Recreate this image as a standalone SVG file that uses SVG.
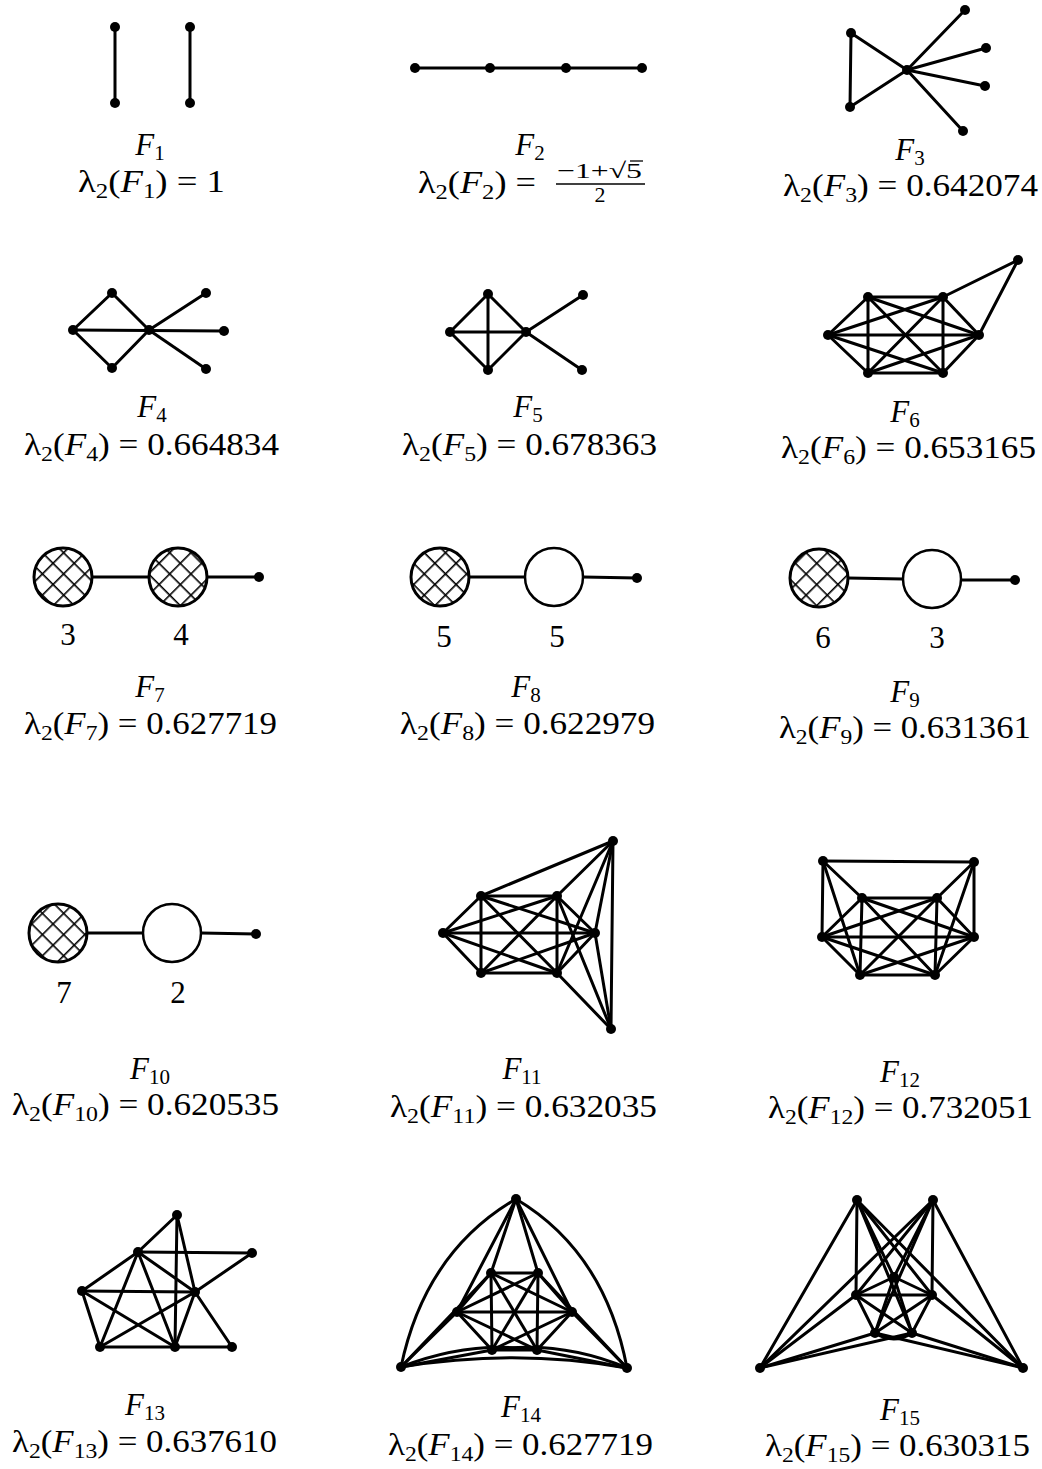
<svg xmlns="http://www.w3.org/2000/svg" width="1042" height="1469" viewBox="0 0 1042 1469">
<style>
.e{stroke:#000;stroke-width:3;fill:none;stroke-linecap:round}
.v{fill:#000}
.t{font-family:"Liberation Serif",serif;font-size:31px;fill:#000}
.i{font-style:italic}
.s{font-size:21px}
.hc{fill:url(#hatch);stroke:#000;stroke-width:3}
.oc{fill:#fff;stroke:#000;stroke-width:2.5}
</style>
<defs>
<pattern id="hatch" patternUnits="userSpaceOnUse" width="15" height="15" patternTransform="rotate(45)">
<rect width="15" height="15" fill="#fff"/>
<line x1="0" y1="0" x2="15" y2="0" stroke="#000" stroke-width="3.2"/>
<line x1="0" y1="0" x2="0" y2="15" stroke="#000" stroke-width="3.2"/>
</pattern>
</defs>
<rect width="1042" height="1469" fill="#fff"/>

<g id="connectors">
<!-- F1 -->
<line class="e" x1="115" y1="27" x2="115" y2="103"/>
<line class="e" x1="190" y1="27" x2="190" y2="103"/>
<!-- F2 -->
<line class="e" x1="415" y1="68" x2="642" y2="68"/>
<!-- F3 -->
<line class="e" x1="851" y1="33" x2="850" y2="107"/>
<line class="e" x1="851" y1="33" x2="907" y2="70"/>
<line class="e" x1="850" y1="107" x2="907" y2="70"/>
<line class="e" x1="907" y1="70" x2="965" y2="10"/>
<line class="e" x1="907" y1="70" x2="986" y2="48"/>
<line class="e" x1="907" y1="70" x2="985" y2="86"/>
<line class="e" x1="907" y1="70" x2="963" y2="131"/>
<!-- F4 -->
<line class="e" x1="73" y1="330" x2="112" y2="293"/>
<line class="e" x1="73" y1="330" x2="112" y2="368"/>
<line class="e" x1="112" y1="293" x2="149" y2="330"/>
<line class="e" x1="112" y1="368" x2="149" y2="330"/>
<line class="e" x1="73" y1="330" x2="224" y2="331"/>
<line class="e" x1="149" y1="330" x2="206" y2="293"/>
<line class="e" x1="149" y1="330" x2="206" y2="369"/>
<!-- F5 -->
<line class="e" x1="450" y1="332" x2="488" y2="294"/>
<line class="e" x1="450" y1="332" x2="488" y2="370"/>
<line class="e" x1="488" y1="294" x2="526" y2="332"/>
<line class="e" x1="488" y1="370" x2="526" y2="332"/>
<line class="e" x1="450" y1="332" x2="526" y2="332"/>
<line class="e" x1="488" y1="294" x2="488" y2="370"/>
<line class="e" x1="526" y1="332" x2="583" y2="295"/>
<line class="e" x1="526" y1="332" x2="582" y2="370"/>
<!-- F6 -->
<line class="e" x1="828" y1="335" x2="868" y2="297"/>
<line class="e" x1="828" y1="335" x2="943" y2="297"/>
<line class="e" x1="828" y1="335" x2="979" y2="335"/>
<line class="e" x1="828" y1="335" x2="943" y2="373"/>
<line class="e" x1="828" y1="335" x2="868" y2="373"/>
<line class="e" x1="868" y1="297" x2="943" y2="297"/>
<line class="e" x1="868" y1="297" x2="979" y2="335"/>
<line class="e" x1="868" y1="297" x2="943" y2="373"/>
<line class="e" x1="868" y1="297" x2="868" y2="373"/>
<line class="e" x1="943" y1="297" x2="979" y2="335"/>
<line class="e" x1="943" y1="297" x2="943" y2="373"/>
<line class="e" x1="943" y1="297" x2="868" y2="373"/>
<line class="e" x1="979" y1="335" x2="943" y2="373"/>
<line class="e" x1="979" y1="335" x2="868" y2="373"/>
<line class="e" x1="943" y1="373" x2="868" y2="373"/>
<line class="e" x1="1018" y1="260" x2="943" y2="297"/>
<line class="e" x1="1018" y1="260" x2="979" y2="335"/>
<!-- F7 -->
<line class="e" x1="92" y1="577" x2="149" y2="577"/>
<line class="e" x1="207" y1="577" x2="259" y2="577"/>
<!-- F8 -->
<line class="e" x1="469" y1="577" x2="524" y2="577"/>
<line class="e" x1="583" y1="577" x2="637" y2="578"/>
<!-- F9 -->
<line class="e" x1="848" y1="578" x2="903" y2="579"/>
<line class="e" x1="961" y1="580" x2="1015" y2="580"/>
<!-- F10 -->
<line class="e" x1="87" y1="933" x2="143" y2="933"/>
<line class="e" x1="201" y1="933" x2="256" y2="934"/>
<!-- F11 -->
<line class="e" x1="443" y1="933" x2="481" y2="896"/>
<line class="e" x1="443" y1="933" x2="557" y2="896"/>
<line class="e" x1="443" y1="933" x2="595" y2="933"/>
<line class="e" x1="443" y1="933" x2="557" y2="973"/>
<line class="e" x1="443" y1="933" x2="481" y2="973"/>
<line class="e" x1="481" y1="896" x2="557" y2="896"/>
<line class="e" x1="481" y1="896" x2="595" y2="933"/>
<line class="e" x1="481" y1="896" x2="557" y2="973"/>
<line class="e" x1="481" y1="896" x2="481" y2="973"/>
<line class="e" x1="557" y1="896" x2="595" y2="933"/>
<line class="e" x1="557" y1="896" x2="557" y2="973"/>
<line class="e" x1="557" y1="896" x2="481" y2="973"/>
<line class="e" x1="595" y1="933" x2="557" y2="973"/>
<line class="e" x1="595" y1="933" x2="481" y2="973"/>
<line class="e" x1="557" y1="973" x2="481" y2="973"/>
<line class="e" x1="613" y1="841" x2="481" y2="896"/>
<line class="e" x1="613" y1="841" x2="557" y2="896"/>
<line class="e" x1="613" y1="841" x2="595" y2="933"/>
<line class="e" x1="613" y1="841" x2="557" y2="973"/>
<line class="e" x1="613" y1="841" x2="611" y2="1029"/>
<line class="e" x1="611" y1="1029" x2="557" y2="973"/>
<line class="e" x1="611" y1="1029" x2="595" y2="933"/>
<line class="e" x1="611" y1="1029" x2="557" y2="896"/>
<!-- F12 -->
<line class="e" x1="822" y1="937" x2="862" y2="898"/>
<line class="e" x1="822" y1="937" x2="937" y2="898"/>
<line class="e" x1="822" y1="937" x2="974" y2="937"/>
<line class="e" x1="822" y1="937" x2="935" y2="975"/>
<line class="e" x1="822" y1="937" x2="860" y2="975"/>
<line class="e" x1="862" y1="898" x2="937" y2="898"/>
<line class="e" x1="862" y1="898" x2="974" y2="937"/>
<line class="e" x1="862" y1="898" x2="935" y2="975"/>
<line class="e" x1="862" y1="898" x2="860" y2="975"/>
<line class="e" x1="937" y1="898" x2="974" y2="937"/>
<line class="e" x1="937" y1="898" x2="935" y2="975"/>
<line class="e" x1="937" y1="898" x2="860" y2="975"/>
<line class="e" x1="974" y1="937" x2="935" y2="975"/>
<line class="e" x1="974" y1="937" x2="860" y2="975"/>
<line class="e" x1="935" y1="975" x2="860" y2="975"/>
<line class="e" x1="823" y1="861" x2="974" y2="862"/>
<line class="e" x1="823" y1="861" x2="822" y2="937"/>
<line class="e" x1="823" y1="861" x2="862" y2="898"/>
<line class="e" x1="823" y1="861" x2="860" y2="975"/>
<line class="e" x1="974" y1="862" x2="974" y2="937"/>
<line class="e" x1="974" y1="862" x2="937" y2="898"/>
<line class="e" x1="974" y1="862" x2="935" y2="975"/>
<!-- F13 -->
<line class="e" x1="177" y1="1215" x2="138" y2="1252"/>
<line class="e" x1="177" y1="1215" x2="175" y2="1347"/>
<line class="e" x1="177" y1="1215" x2="195" y2="1292"/>
<line class="e" x1="138" y1="1252" x2="252" y2="1253"/>
<line class="e" x1="138" y1="1252" x2="82" y2="1291"/>
<line class="e" x1="138" y1="1252" x2="100" y2="1347"/>
<line class="e" x1="138" y1="1252" x2="175" y2="1347"/>
<line class="e" x1="138" y1="1252" x2="195" y2="1292"/>
<line class="e" x1="82" y1="1291" x2="195" y2="1292"/>
<line class="e" x1="82" y1="1291" x2="100" y2="1347"/>
<line class="e" x1="82" y1="1291" x2="175" y2="1347"/>
<line class="e" x1="195" y1="1292" x2="100" y2="1347"/>
<line class="e" x1="195" y1="1292" x2="175" y2="1347"/>
<line class="e" x1="195" y1="1292" x2="232" y2="1347"/>
<line class="e" x1="252" y1="1253" x2="195" y2="1292"/>
<line class="e" x1="100" y1="1347" x2="232" y2="1347"/>
<!-- F14 -->
<line class="e" x1="491" y1="1273" x2="538" y2="1273"/>
<line class="e" x1="491" y1="1273" x2="457" y2="1312"/>
<line class="e" x1="491" y1="1273" x2="572" y2="1312"/>
<line class="e" x1="491" y1="1273" x2="492" y2="1350"/>
<line class="e" x1="491" y1="1273" x2="537" y2="1350"/>
<line class="e" x1="538" y1="1273" x2="457" y2="1312"/>
<line class="e" x1="538" y1="1273" x2="572" y2="1312"/>
<line class="e" x1="538" y1="1273" x2="492" y2="1350"/>
<line class="e" x1="538" y1="1273" x2="537" y2="1350"/>
<line class="e" x1="457" y1="1312" x2="572" y2="1312"/>
<line class="e" x1="457" y1="1312" x2="492" y2="1350"/>
<line class="e" x1="457" y1="1312" x2="537" y2="1350"/>
<line class="e" x1="572" y1="1312" x2="492" y2="1350"/>
<line class="e" x1="572" y1="1312" x2="537" y2="1350"/>
<line class="e" x1="492" y1="1350" x2="537" y2="1350"/>
<path class="e" d="M516 1199 Q425 1252 401 1367"/>
<path class="e" d="M516 1199 Q605 1252 627 1368"/>
<line class="e" x1="516" y1="1199" x2="491" y2="1273"/>
<line class="e" x1="516" y1="1199" x2="538" y2="1273"/>
<line class="e" x1="516" y1="1199" x2="457" y2="1312"/>
<line class="e" x1="516" y1="1199" x2="572" y2="1312"/>
<line class="e" x1="401" y1="1367" x2="457" y2="1312"/>
<line class="e" x1="401" y1="1367" x2="491" y2="1273"/>
<line class="e" x1="401" y1="1367" x2="492" y2="1350"/>
<path class="e" d="M401 1367 Q470 1340 537 1350"/>
<line class="e" x1="627" y1="1368" x2="572" y2="1312"/>
<line class="e" x1="627" y1="1368" x2="538" y2="1273"/>
<line class="e" x1="627" y1="1368" x2="537" y2="1350"/>
<path class="e" d="M627 1368 Q560 1340 492 1350"/>
<path class="e" d="M401 1367 Q516 1348 627 1368"/>
<!-- F15 -->
<line class="e" x1="857" y1="1200" x2="856" y2="1295"/>
<line class="e" x1="933" y1="1200" x2="932" y2="1295"/>
<line class="e" x1="857" y1="1200" x2="894" y2="1277"/>
<line class="e" x1="933" y1="1200" x2="894" y2="1277"/>
<line class="e" x1="857" y1="1200" x2="932" y2="1295"/>
<line class="e" x1="933" y1="1200" x2="856" y2="1295"/>
<line class="e" x1="857" y1="1200" x2="912" y2="1333"/>
<line class="e" x1="933" y1="1200" x2="875" y2="1333"/>
<line class="e" x1="857" y1="1200" x2="760" y2="1368"/>
<line class="e" x1="933" y1="1200" x2="1023" y2="1368"/>
<line class="e" x1="857" y1="1200" x2="1023" y2="1368"/>
<line class="e" x1="933" y1="1200" x2="760" y2="1368"/>
<line class="e" x1="856" y1="1295" x2="932" y2="1295"/>
<line class="e" x1="856" y1="1295" x2="894" y2="1277"/>
<line class="e" x1="932" y1="1295" x2="894" y2="1277"/>
<line class="e" x1="856" y1="1295" x2="875" y2="1333"/>
<line class="e" x1="856" y1="1295" x2="912" y2="1333"/>
<line class="e" x1="932" y1="1295" x2="875" y2="1333"/>
<line class="e" x1="932" y1="1295" x2="912" y2="1333"/>
<path class="e" d="M875 1333 Q894 1345 912 1333"/>
<line class="e" x1="894" y1="1277" x2="875" y2="1333"/>
<line class="e" x1="894" y1="1277" x2="912" y2="1333"/>
<line class="e" x1="760" y1="1368" x2="856" y2="1295"/>
<line class="e" x1="760" y1="1368" x2="875" y2="1333"/>
<line class="e" x1="760" y1="1368" x2="912" y2="1333"/>
<line class="e" x1="1023" y1="1368" x2="932" y2="1295"/>
<line class="e" x1="1023" y1="1368" x2="875" y2="1333"/>
<line class="e" x1="1023" y1="1368" x2="912" y2="1333"/>
</g>

<g id="F1"><circle class="v" cx="115" cy="27" r="5"/><circle class="v" cx="115" cy="103" r="5"/><circle class="v" cx="190" cy="27" r="5"/><circle class="v" cx="190" cy="103" r="5"/></g>
<g id="F2"><circle class="v" cx="415" cy="68" r="5"/><circle class="v" cx="490" cy="68" r="5"/><circle class="v" cx="566" cy="68" r="5"/><circle class="v" cx="642" cy="68" r="5"/></g>
<g id="F3"><circle class="v" cx="851" cy="33" r="5"/><circle class="v" cx="850" cy="107" r="5"/><circle class="v" cx="907" cy="70" r="5"/><circle class="v" cx="965" cy="10" r="5"/><circle class="v" cx="986" cy="48" r="5"/><circle class="v" cx="985" cy="86" r="5"/><circle class="v" cx="963" cy="131" r="5"/></g>
<g id="F4"><circle class="v" cx="73" cy="330" r="5"/><circle class="v" cx="112" cy="293" r="5"/><circle class="v" cx="112" cy="368" r="5"/><circle class="v" cx="149" cy="330" r="5"/><circle class="v" cx="206" cy="293" r="5"/><circle class="v" cx="224" cy="331" r="5"/><circle class="v" cx="206" cy="369" r="5"/></g>
<g id="F5"><circle class="v" cx="450" cy="332" r="5"/><circle class="v" cx="488" cy="294" r="5"/><circle class="v" cx="488" cy="370" r="5"/><circle class="v" cx="526" cy="332" r="5"/><circle class="v" cx="583" cy="295" r="5"/><circle class="v" cx="582" cy="370" r="5"/></g>
<g id="F6"><circle class="v" cx="828" cy="335" r="5"/><circle class="v" cx="868" cy="297" r="5"/><circle class="v" cx="943" cy="297" r="5"/><circle class="v" cx="979" cy="335" r="5"/><circle class="v" cx="943" cy="373" r="5"/><circle class="v" cx="868" cy="373" r="5"/><circle class="v" cx="1018" cy="260" r="5"/></g>
<g id="F7"><circle class="hc" cx="63" cy="577" r="29"/><circle class="hc" cx="178" cy="577" r="29"/><circle class="v" cx="259" cy="577" r="5"/></g>
<g id="F8"><circle class="hc" cx="440" cy="577" r="29"/><circle class="oc" cx="554" cy="577" r="29"/><circle class="v" cx="637" cy="578" r="5"/></g>
<g id="F9"><circle class="hc" cx="819" cy="578" r="29"/><circle class="oc" cx="932" cy="579" r="29"/><circle class="v" cx="1015" cy="580" r="5"/></g>
<g id="F10"><circle class="hc" cx="58" cy="933" r="29"/><circle class="oc" cx="172" cy="933" r="29"/><circle class="v" cx="256" cy="934" r="5"/></g>
<g id="F11"><circle class="v" cx="443" cy="933" r="5"/><circle class="v" cx="481" cy="896" r="5"/><circle class="v" cx="557" cy="896" r="5"/><circle class="v" cx="595" cy="933" r="5"/><circle class="v" cx="557" cy="973" r="5"/><circle class="v" cx="481" cy="973" r="5"/><circle class="v" cx="613" cy="841" r="5"/><circle class="v" cx="611" cy="1029" r="5"/></g>
<g id="F12"><circle class="v" cx="823" cy="861" r="5"/><circle class="v" cx="974" cy="862" r="5"/><circle class="v" cx="862" cy="898" r="5"/><circle class="v" cx="937" cy="898" r="5"/><circle class="v" cx="822" cy="937" r="5"/><circle class="v" cx="974" cy="937" r="5"/><circle class="v" cx="860" cy="975" r="5"/><circle class="v" cx="935" cy="975" r="5"/></g>
<g id="F13"><circle class="v" cx="177" cy="1215" r="5"/><circle class="v" cx="138" cy="1252" r="5"/><circle class="v" cx="252" cy="1253" r="5"/><circle class="v" cx="82" cy="1291" r="5"/><circle class="v" cx="195" cy="1292" r="5"/><circle class="v" cx="100" cy="1347" r="5"/><circle class="v" cx="175" cy="1347" r="5"/><circle class="v" cx="232" cy="1347" r="5"/></g>
<g id="F14"><circle class="v" cx="516" cy="1199" r="5"/><circle class="v" cx="491" cy="1273" r="5"/><circle class="v" cx="538" cy="1273" r="5"/><circle class="v" cx="457" cy="1312" r="5"/><circle class="v" cx="572" cy="1312" r="5"/><circle class="v" cx="492" cy="1350" r="5"/><circle class="v" cx="537" cy="1350" r="5"/><circle class="v" cx="401" cy="1367" r="5"/><circle class="v" cx="627" cy="1368" r="5"/></g>
<g id="F15"><circle class="v" cx="857" cy="1200" r="5"/><circle class="v" cx="933" cy="1200" r="5"/><circle class="v" cx="894" cy="1277" r="5"/><circle class="v" cx="856" cy="1295" r="5"/><circle class="v" cx="932" cy="1295" r="5"/><circle class="v" cx="875" cy="1333" r="5"/><circle class="v" cx="912" cy="1333" r="5"/><circle class="v" cx="760" cy="1368" r="5"/><circle class="v" cx="1023" cy="1368" r="5"/></g>

<g id="labels" class="t">
<text x="68" y="645" text-anchor="middle">3</text>
<text x="181" y="645" text-anchor="middle">4</text>
<text x="444" y="647" text-anchor="middle">5</text>
<text x="557" y="647" text-anchor="middle">5</text>
<text x="823" y="648" text-anchor="middle">6</text>
<text x="937" y="648" text-anchor="middle">3</text>
<text x="64" y="1003" text-anchor="middle">7</text>
<text x="178" y="1003" text-anchor="middle">2</text>

<text x="150" y="155" text-anchor="middle"><tspan class="i">F</tspan><tspan class="s" dy="5">1</tspan></text>
<text x="78" y="192" textLength="147" lengthAdjust="spacingAndGlyphs">λ<tspan class="s" dy="6">2</tspan><tspan dy="-6">(</tspan><tspan class="i">F</tspan><tspan class="s" dy="6">1</tspan><tspan dy="-6">) = 1</tspan></text>

<text x="530" y="155" text-anchor="middle"><tspan class="i">F</tspan><tspan class="s" dy="5">2</tspan></text>
<text x="418" y="193" textLength="118" lengthAdjust="spacingAndGlyphs">λ<tspan class="s" dy="6">2</tspan><tspan dy="-6">(</tspan><tspan class="i">F</tspan><tspan class="s" dy="6">2</tspan><tspan dy="-6">) =</tspan></text>
<text x="557" y="178" font-size="22" textLength="85" lengthAdjust="spacingAndGlyphs">−1+√5</text>
<line x1="630" y1="161" x2="643" y2="161" stroke="#000" stroke-width="1.3"/>
<line x1="556" y1="184" x2="645" y2="184" stroke="#000" stroke-width="1.5"/>
<text x="600" y="202" text-anchor="middle" font-size="22">2</text>

<text x="910" y="160" text-anchor="middle"><tspan class="i">F</tspan><tspan class="s" dy="5">3</tspan></text>
<text x="783" y="196" textLength="255" lengthAdjust="spacingAndGlyphs">λ<tspan class="s" dy="6">2</tspan><tspan dy="-6">(</tspan><tspan class="i">F</tspan><tspan class="s" dy="6">3</tspan><tspan dy="-6">) = 0.642074</tspan></text>

<text x="152" y="417" text-anchor="middle"><tspan class="i">F</tspan><tspan class="s" dy="5">4</tspan></text>
<text x="24" y="455" textLength="255" lengthAdjust="spacingAndGlyphs">λ<tspan class="s" dy="6">2</tspan><tspan dy="-6">(</tspan><tspan class="i">F</tspan><tspan class="s" dy="6">4</tspan><tspan dy="-6">) = 0.664834</tspan></text>

<text x="528" y="417" text-anchor="middle"><tspan class="i">F</tspan><tspan class="s" dy="5">5</tspan></text>
<text x="402" y="455" textLength="255" lengthAdjust="spacingAndGlyphs">λ<tspan class="s" dy="6">2</tspan><tspan dy="-6">(</tspan><tspan class="i">F</tspan><tspan class="s" dy="6">5</tspan><tspan dy="-6">) = 0.678363</tspan></text>

<text x="905" y="422" text-anchor="middle"><tspan class="i">F</tspan><tspan class="s" dy="5">6</tspan></text>
<text x="781" y="458" textLength="255" lengthAdjust="spacingAndGlyphs">λ<tspan class="s" dy="6">2</tspan><tspan dy="-6">(</tspan><tspan class="i">F</tspan><tspan class="s" dy="6">6</tspan><tspan dy="-6">) = 0.653165</tspan></text>

<text x="150" y="697" text-anchor="middle"><tspan class="i">F</tspan><tspan class="s" dy="5">7</tspan></text>
<text x="24" y="734" textLength="253" lengthAdjust="spacingAndGlyphs">λ<tspan class="s" dy="6">2</tspan><tspan dy="-6">(</tspan><tspan class="i">F</tspan><tspan class="s" dy="6">7</tspan><tspan dy="-6">) = 0.627719</tspan></text>

<text x="526" y="697" text-anchor="middle"><tspan class="i">F</tspan><tspan class="s" dy="5">8</tspan></text>
<text x="400" y="734" textLength="255" lengthAdjust="spacingAndGlyphs">λ<tspan class="s" dy="6">2</tspan><tspan dy="-6">(</tspan><tspan class="i">F</tspan><tspan class="s" dy="6">8</tspan><tspan dy="-6">) = 0.622979</tspan></text>

<text x="905" y="702" text-anchor="middle"><tspan class="i">F</tspan><tspan class="s" dy="5">9</tspan></text>
<text x="779" y="738" textLength="252" lengthAdjust="spacingAndGlyphs">λ<tspan class="s" dy="6">2</tspan><tspan dy="-6">(</tspan><tspan class="i">F</tspan><tspan class="s" dy="6">9</tspan><tspan dy="-6">) = 0.631361</tspan></text>

<text x="150" y="1079" text-anchor="middle"><tspan class="i">F</tspan><tspan class="s" dy="5">10</tspan></text>
<text x="12" y="1115" textLength="267" lengthAdjust="spacingAndGlyphs">λ<tspan class="s" dy="6">2</tspan><tspan dy="-6">(</tspan><tspan class="i">F</tspan><tspan class="s" dy="6">10</tspan><tspan dy="-6">) = 0.620535</tspan></text>

<text x="522" y="1079" text-anchor="middle"><tspan class="i">F</tspan><tspan class="s" dy="5">11</tspan></text>
<text x="390" y="1117" textLength="267" lengthAdjust="spacingAndGlyphs">λ<tspan class="s" dy="6">2</tspan><tspan dy="-6">(</tspan><tspan class="i">F</tspan><tspan class="s" dy="6">11</tspan><tspan dy="-6">) = 0.632035</tspan></text>

<text x="900" y="1082" text-anchor="middle"><tspan class="i">F</tspan><tspan class="s" dy="5">12</tspan></text>
<text x="768" y="1118" textLength="265" lengthAdjust="spacingAndGlyphs">λ<tspan class="s" dy="6">2</tspan><tspan dy="-6">(</tspan><tspan class="i">F</tspan><tspan class="s" dy="6">12</tspan><tspan dy="-6">) = 0.732051</tspan></text>

<text x="145" y="1415" text-anchor="middle"><tspan class="i">F</tspan><tspan class="s" dy="5">13</tspan></text>
<text x="12" y="1452" textLength="265" lengthAdjust="spacingAndGlyphs">λ<tspan class="s" dy="6">2</tspan><tspan dy="-6">(</tspan><tspan class="i">F</tspan><tspan class="s" dy="6">13</tspan><tspan dy="-6">) = 0.637610</tspan></text>

<text x="521" y="1417" text-anchor="middle"><tspan class="i">F</tspan><tspan class="s" dy="5">14</tspan></text>
<text x="388" y="1455" textLength="265" lengthAdjust="spacingAndGlyphs">λ<tspan class="s" dy="6">2</tspan><tspan dy="-6">(</tspan><tspan class="i">F</tspan><tspan class="s" dy="6">14</tspan><tspan dy="-6">) = 0.627719</tspan></text>

<text x="900" y="1420" text-anchor="middle"><tspan class="i">F</tspan><tspan class="s" dy="5">15</tspan></text>
<text x="765" y="1456" textLength="265" lengthAdjust="spacingAndGlyphs">λ<tspan class="s" dy="6">2</tspan><tspan dy="-6">(</tspan><tspan class="i">F</tspan><tspan class="s" dy="6">15</tspan><tspan dy="-6">) = 0.630315</tspan></text>
</g>
</svg>
